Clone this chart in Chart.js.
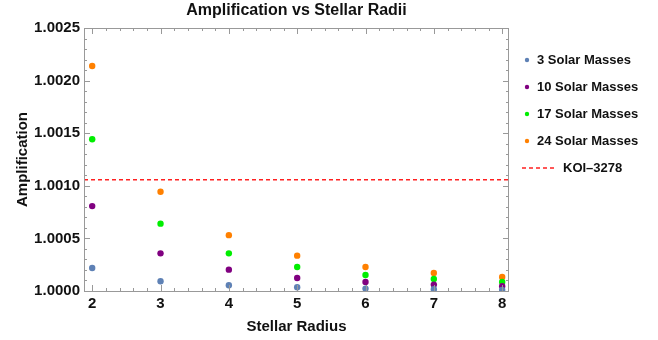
<!DOCTYPE html>
<html lang="en">
<head>
    <meta charset="UTF-8">
    <script src="https://cdn.jsdelivr.net/npm/chart.js@4.4.0/dist/chart.umd.min.js"></script>
    <title>Amplification vs Stellar Radii</title>
    <style>
        html, body { margin: 0; padding: 0; background: #fff; }
        #wrap { width: 658px; height: 340px; position: relative; }
    </style>
</head>
<body>
    <div id="wrap"><canvas id="chart1"></canvas></div>

    <script>
        // stellar radius (x) and amplification per companion mass
        var radii = [2, 3, 4, 5, 6, 7, 8];
        var amp3 = [1.000218, 1.000092, 1.000054, 1.000035, 1.000023, 1.000016, 1.000011];
        var amp10 = [1.000807, 1.000358, 1.000203, 1.000123, 1.000085, 1.000061, 1.000045];
        var amp17 = [1.001443, 1.000640, 1.000358, 1.000228, 1.000152, 1.000114, 1.000085];
        var amp24 = [1.002139, 1.000943, 1.000531, 1.000336, 1.000228, 1.000171, 1.000133];
        var koi3278 = 1.001057;

        var seriesNames = ['3 Solar Masses', '10 Solar Masses', '17 Solar Masses', '24 Solar Masses'];
        var koiName = 'KOI\u20133278';
        var chartTitle = 'Amplification vs Stellar Radii';
        var xTicks = [2, 3, 4, 5, 6, 7, 8];
        var yTicks = [1.0000, 1.0005, 1.0010, 1.0015, 1.0020, 1.0025];
        var xRange = [1.88, 8.1];
        var yRange = [1.0000, 1.0025];

        var colores = ['#5e81b5', '#800080', '#00ee00', '#ff8000'];
        var FONT = "'Liberation Sans', Arial, sans-serif";

        function pts(ys) {
            return radii.map((r, i) => ({ x: r, y: ys[i] }));
        }

        var datasets = [amp3, amp10, amp17, amp24].map((ys, i) => ({
            type: 'scatter',
            label: seriesNames[i],
            data: pts(ys),
            backgroundColor: colores[i],
            borderWidth: 0,
            pointRadius: 3.2,
            pointHoverRadius: 3.2
        }));

        datasets.push({
            type: 'line',
            label: koiName,
            data: [{ x: xRange[0], y: koi3278 }, { x: xRange[1], y: koi3278 }],
            borderColor: '#ff2020',
            borderWidth: 1.5,
            borderDash: [4, 3],
            pointRadius: 0,
            fill: false
        });

        // frame with inward major/minor ticks on all four sides, title centred over the plot
        var framePlugin = {
            id: 'frame',
            afterDatasetsDraw(chart) {
                var c = chart.ctx, a = chart.chartArea;
                var xs = chart.scales.x, ys = chart.scales.y;
                c.save();
                c.strokeStyle = '#999';
                c.lineWidth = 1;
                c.strokeRect(a.left + 0.5, a.top + 0.5, a.right - a.left - 1, a.bottom - a.top);
                c.beginPath();
                for (var v = 1.8; v <= 8.2 + 1e-9; v += 0.2) {
                    var val = Math.round(v * 10) / 10;
                    if (val < xRange[0] || val > xRange[1]) continue;
                    var px = Math.round(xs.getPixelForValue(val)) + 0.5;
                    var len = Math.abs(val - Math.round(val)) < 1e-6 ? 6 : 3;
                    c.moveTo(px, a.bottom); c.lineTo(px, a.bottom - len);
                    c.moveTo(px, a.top); c.lineTo(px, a.top + len);
                }
                for (var k = 0; k <= 25; k++) {
                    var yv = yRange[0] + k * 0.0001;
                    var py = Math.round(ys.getPixelForValue(yv)) + 0.5;
                    var l2 = k % 5 === 0 ? 6 : 3;
                    c.moveTo(a.left, py); c.lineTo(a.left + l2, py);
                    c.moveTo(a.right, py); c.lineTo(a.right - l2, py);
                }
                c.stroke();

                c.font = 'bold 16px ' + FONT;
                c.fillStyle = '#111';
                c.textAlign = 'center';
                c.textBaseline = 'middle';
                c.fillText(chartTitle, (a.left + a.right) / 2, 11);
                c.restore();
            }
        };

        // legend to the right of the plot
        var legendPlugin = {
            id: 'sideLegend',
            afterDraw(chart) {
                var c = chart.ctx, a = chart.chartArea;
                c.save();
                c.font = 'bold 13px ' + FONT;
                c.fillStyle = '#111';
                c.textBaseline = 'middle';
                chart.data.datasets.forEach((ds, i) => {
                    var y = a.top + 32 + i * 27;
                    if (ds.type === 'scatter') {
                        c.fillStyle = ds.backgroundColor;
                        c.beginPath();
                        c.arc(a.right + 18, y, 2.2, 0, Math.PI * 2);
                        c.fill();
                        c.fillStyle = '#111';
                        c.fillText(ds.label, a.right + 28, y);
                    } else {
                        c.strokeStyle = ds.borderColor;
                        c.lineWidth = 1.5;
                        c.setLineDash(ds.borderDash);
                        c.beginPath();
                        c.moveTo(a.right + 13, y);
                        c.lineTo(a.right + 46, y);
                        c.stroke();
                        c.setLineDash([]);
                        c.fillStyle = '#111';
                        c.fillText(ds.label, a.right + 54, y);
                    }
                });
                c.restore();
            }
        };

        var ctx = document.getElementById('chart1').getContext('2d');
        var myChart = new Chart(ctx, {
            type: 'scatter',
            data: { datasets },
            options: {
                responsive: true,
                maintainAspectRatio: false,
                animation: false,
                events: [],
                layout: { padding: { left: 14, right: 149, top: 28, bottom: 4 } },
                plugins: {
                    legend: { display: false },
                    tooltip: { enabled: false },
                    title: { display: false }
                },
                scales: {
                    x: {
                        type: 'linear',
                        min: xRange[0],
                        max: xRange[1],
                        afterBuildTicks: s => { s.ticks = xTicks.map(v => ({ value: v })); },
                        afterFit: s => { s.height = 45; },
                        grid: { display: false, drawTicks: false },
                        border: { display: false },
                        ticks: {
                            padding: 4,
                            color: '#111',
                            font: { family: FONT, size: 15, weight: 'bold' }
                        },
                        title: {
                            display: true,
                            text: 'Stellar Radius',
                            color: '#111',
                            font: { family: FONT, size: 15, weight: 'bold' },
                            padding: { top: 4, bottom: 0 }
                        }
                    },
                    y: {
                        type: 'linear',
                        min: yRange[0],
                        max: yRange[1],
                        afterBuildTicks: s => { s.ticks = yTicks.map(v => ({ value: v })); },
                        afterFit: s => { s.width = 70; },
                        grid: { display: false, drawTicks: false },
                        border: { display: false },
                        ticks: {
                            padding: 4,
                            color: '#111',
                            font: { family: FONT, size: 15, weight: 'bold' },
                            callback: v => Number(v).toFixed(4)
                        },
                        title: {
                            display: true,
                            text: 'Amplification',
                            color: '#111',
                            font: { family: FONT, size: 15, weight: 'bold' },
                            padding: { top: 0, bottom: 0 }
                        }
                    }
                }
            },
            plugins: [framePlugin, legendPlugin]
        });
    </script>
</body>
</html>
